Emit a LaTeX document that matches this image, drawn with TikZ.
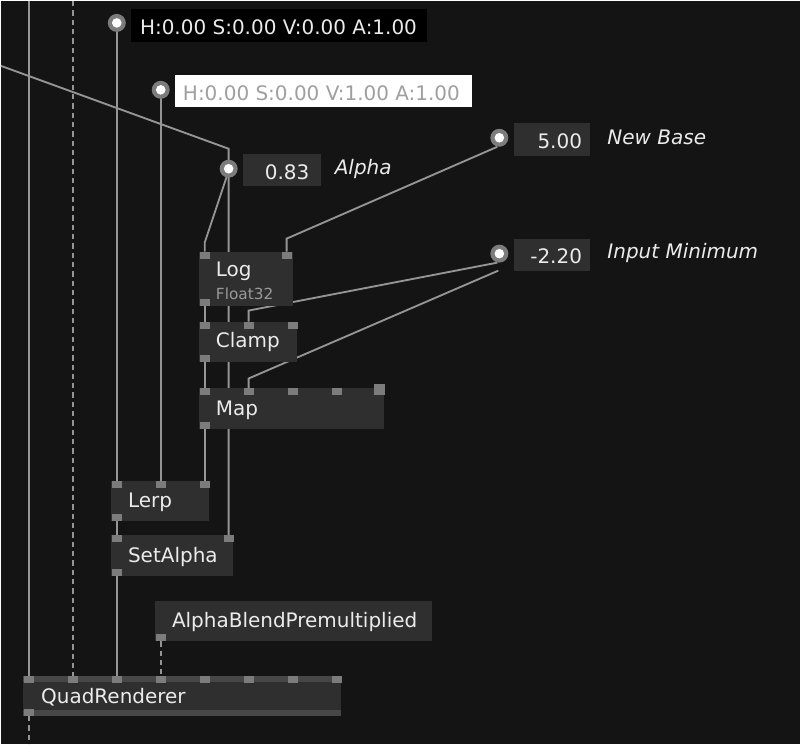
\documentclass[tikz,border=0pt]{standalone}
\usepackage{fontspec}
\setmainfont{DejaVu Sans}
\definecolor{bg}{HTML}{141414}
\definecolor{boxc}{HTML}{2F2F2F}
\definecolor{pinc}{HTML}{7C7C7C}
\definecolor{wire}{HTML}{959595}
\definecolor{strip}{HTML}{474747}
\begin{document}
\begin{tikzpicture}[x=0.75pt,y=-0.75pt,
  wireline/.style={draw=wire,line width=1.4pt},
  dashwire/.style={draw=wire,line width=1.4pt,dash pattern=on 4pt off 3pt},
  nodebox/.style={fill=boxc},
  pin/.style={fill=pinc},
  txt/.style={text=white!92!black,font=\fontsize{15}{17}\selectfont,anchor=west,inner sep=0pt},
  lbl/.style={text=white!92!black,font=\fontsize{15}{17}\selectfont\itshape,anchor=west,inner sep=0pt},
  ring/.style={circle,fill=pinc,minimum size=13.5pt,inner sep=0pt,
    path picture={\fill[white] (path picture bounding box.center) circle (3.6pt);}}]
\fill[bg] (0,0) rectangle (800,744);
\newcommand{\pinat}[2]{\fill[pin] (#1-5,#2) rectangle (#1+5,#2+7);}
\newcommand{\pinbot}[2]{\fill[pin] (#1-5,#2-7) rectangle (#1+5,#2);}
% wires
\coordinate (tl) at (0,65); \coordinate (tb) at (228,148);
\draw[wireline] (28,0) -- (28,676);
\draw[dashwire] (72,0) -- (72,676);
\draw[wireline] (tl) -- (tb) -- (228,535);
\draw[wireline] (116,30) -- (116,481);
\draw[wireline] (160,96) -- (160,481);
\draw[wireline] (226,176) -- (204,242) -- (204,251);
\draw[wireline] (497,146) -- (286,238) -- (286,251);
\draw[wireline] (497,262) -- (248,310) -- (248,321);
\draw[wireline] (498,270) -- (248,378) -- (248,388);
\draw[wireline] (204,305) -- (204,321);
\draw[wireline] (204,361) -- (204,388);
\draw[wireline] (204,429) -- (204,481);
\draw[wireline] (116,521) -- (116,535);
\draw[wireline] (116,576) -- (116,676);
\draw[dashwire] (160,641) -- (160,676);
\draw[dashwire] (28,716) -- (28,744);
% IO boxes
\node[ring] (c1) at (116,22) {};
\fill[black] (130,8) rectangle (427,41);
\node[txt] (t1) at (139,26) {H:0.00 S:0.00 V:0.00 A:1.00};
\node[ring] (c2) at (160,89) {};
\fill[white] (174,74) rectangle (472,106);
\node[txt,text=gray!75] (t2) at (182,92) {H:0.00 S:0.00 V:1.00 A:1.00};
\node[ring] (c3) at (228,168) {};
\fill[boxc] (242,153) rectangle (320,185);
\node[txt,anchor=east] (t3) at (309,171) {0.83};
\node[lbl] (l3) at (334,168.5) {Alpha};
\node[ring] (c4) at (499,137) {};
\fill[boxc] (514,122) rectangle (590,155);
\node[txt,anchor=east] (t4) at (582,140.5) {5.00};
\node[lbl] (l4) at (607,136.5) {New Base};
\node[ring] (c5) at (499,253) {};
\fill[boxc] (514,238) rectangle (590,270);
\node[txt,anchor=east] (t5) at (582,256) {-2.20};
\node[lbl] (l5) at (607,252.5) {Input Minimum};
% Log
\fill[nodebox] (198,251) rectangle (292,305);
\pinat{204}{251}\pinat{286}{251}\pinbot{204}{305}
\node[txt] (log) at (215,271) {Log};
\node[txt,text=gray!80,font=\fontsize{11.5}{13}\selectfont] (f32) at (215,293) {Float32};
% Clamp
\fill[nodebox] (198,321) rectangle (296,361);
\pinat{204}{321}\pinat{248}{321}\pinat{292}{321}\pinbot{204}{361}
\node[txt] (clamp) at (215,341.5) {Clamp};
% Map
\fill[nodebox] (198,388) rectangle (384,429);
\pinat{204}{388}\pinat{248}{388}\pinat{292}{388}\pinat{336}{388}
\fill[pin] (374,384) rectangle (385,395);
\pinbot{204}{429}
\node[txt] (map) at (215,409.5) {Map};
% Lerp
\fill[nodebox] (110,481) rectangle (208,521);
\pinat{116}{481}\pinat{160}{481}\pinat{204}{481}\pinbot{116}{521}
\node[txt] (lerp) at (127,501.5) {Lerp};
% SetAlpha
\fill[nodebox] (110,535) rectangle (232,576);
\pinat{116}{535}\pinat{228}{535}\pinbot{116}{576}
\node[txt] (sa) at (127,556.5) {SetAlpha};
% AlphaBlend
\fill[nodebox] (154,601) rectangle (432,641);
\pinbot{160}{641}
\node[txt] (ab) at (171,622) {AlphaBlendPremultiplied};
% QuadRenderer
\fill[nodebox] (22,676) rectangle (340,716);
\fill[strip] (22,676) rectangle (340,682);
\fill[strip] (22,710) rectangle (340,716);
\foreach \x in {28,72,116,160,204,248,292,336} {\pinat{\x}{676}}
\pinbot{28}{716}
\node[txt] (qr) at (40,697) {QuadRenderer};
\end{tikzpicture}
\end{document}
